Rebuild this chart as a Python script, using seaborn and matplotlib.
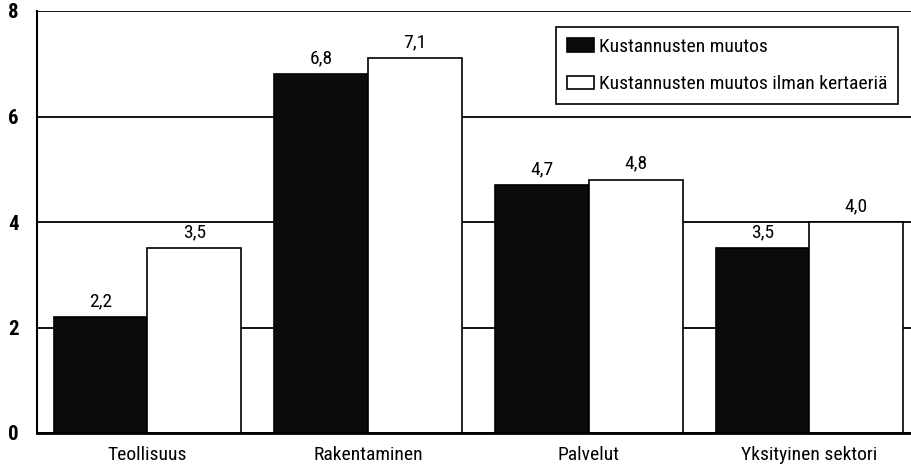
import numpy as np
import pandas as pd
import matplotlib
matplotlib.use('Agg')
import matplotlib.pyplot as plt
import seaborn as sns

# Data
categories = ['Teollisuus', 'Rakentaminen', 'Palvelut', 'Yksityinen sektori']
series_names = ['Kustannusten muutos', 'Kustannusten muutos ilman kertaeriä']
muutos = [2.2, 6.8, 4.7, 3.5]
ilman_kertaeria = [3.5, 7.1, 4.8, 4.0]
y_ticks = [0, 2, 4, 6, 8]

sns.set_style('white')
plt.rcParams['font.family'] = ['Roboto Condensed', 'Liberation Sans Narrow', 'DejaVu Sans']
plt.rcParams['font.stretch'] = 'condensed'
plt.rcParams['text.color'] = 'black'
plt.rcParams['xtick.color'] = 'black'
plt.rcParams['ytick.color'] = 'black'
plt.rcParams['axes.unicode_minus'] = False

df = pd.DataFrame({
    'category': categories * 2,
    'series': [series_names[0]] * len(categories) + [series_names[1]] * len(categories),
    'value': muutos + ilman_kertaeria,
})

fig = plt.figure(figsize=(9.11, 4.70), dpi=100)
ax = fig.add_axes([37 / 911, 37 / 470, 1 - 37 / 911, 422 / 470])

ax.set_axisbelow(True)
ax.yaxis.grid(True, color='black', linewidth=1.3)

sns.barplot(data=df, x='category', y='value', hue='series', order=categories,
            hue_order=series_names, palette=['#0b0b0b', 'white'],
            width=0.85, edgecolor='black', linewidth=1.2, saturation=1,
            errorbar=None, ax=ax)

for cont in ax.containers:
    for bar in cont:
        h = bar.get_height()
        ax.annotate(f'{h:.1f}'.replace('.', ','),
                    (bar.get_x() + bar.get_width() / 2, h),
                    xytext=(0, 5), textcoords='offset points',
                    ha='center', va='bottom', fontsize=14, color='black')

ax.set_ylim(0, 8)
ax.set_xlim(-0.5, 3.46)
ax.set_yticks(y_ticks)
ax.set_yticklabels([str(t) for t in y_ticks], fontsize=15, fontweight='bold')
ax.tick_params(axis='y', length=0, pad=13)
ax.tick_params(axis='x', length=0, pad=9, labelsize=14)
ax.set_xlabel('')
ax.set_ylabel('')

for side in ['top', 'right']:
    ax.spines[side].set_visible(False)
ax.spines['left'].set_linewidth(1.5)
ax.spines['left'].set_color('black')
ax.spines['bottom'].set_linewidth(2)
ax.spines['bottom'].set_color('black')

leg = ax.legend(loc='upper right', bbox_to_anchor=(0.985, 0.962),
                fontsize=14, frameon=True, fancybox=False,
                edgecolor='black', framealpha=1, handlelength=1.4,
                handleheight=0.7, handletextpad=0.25, borderpad=0.55,
                labelspacing=1.0, borderaxespad=0)
leg.get_frame().set_linewidth(1.2)

fig.savefig('out.png', dpi=100)
